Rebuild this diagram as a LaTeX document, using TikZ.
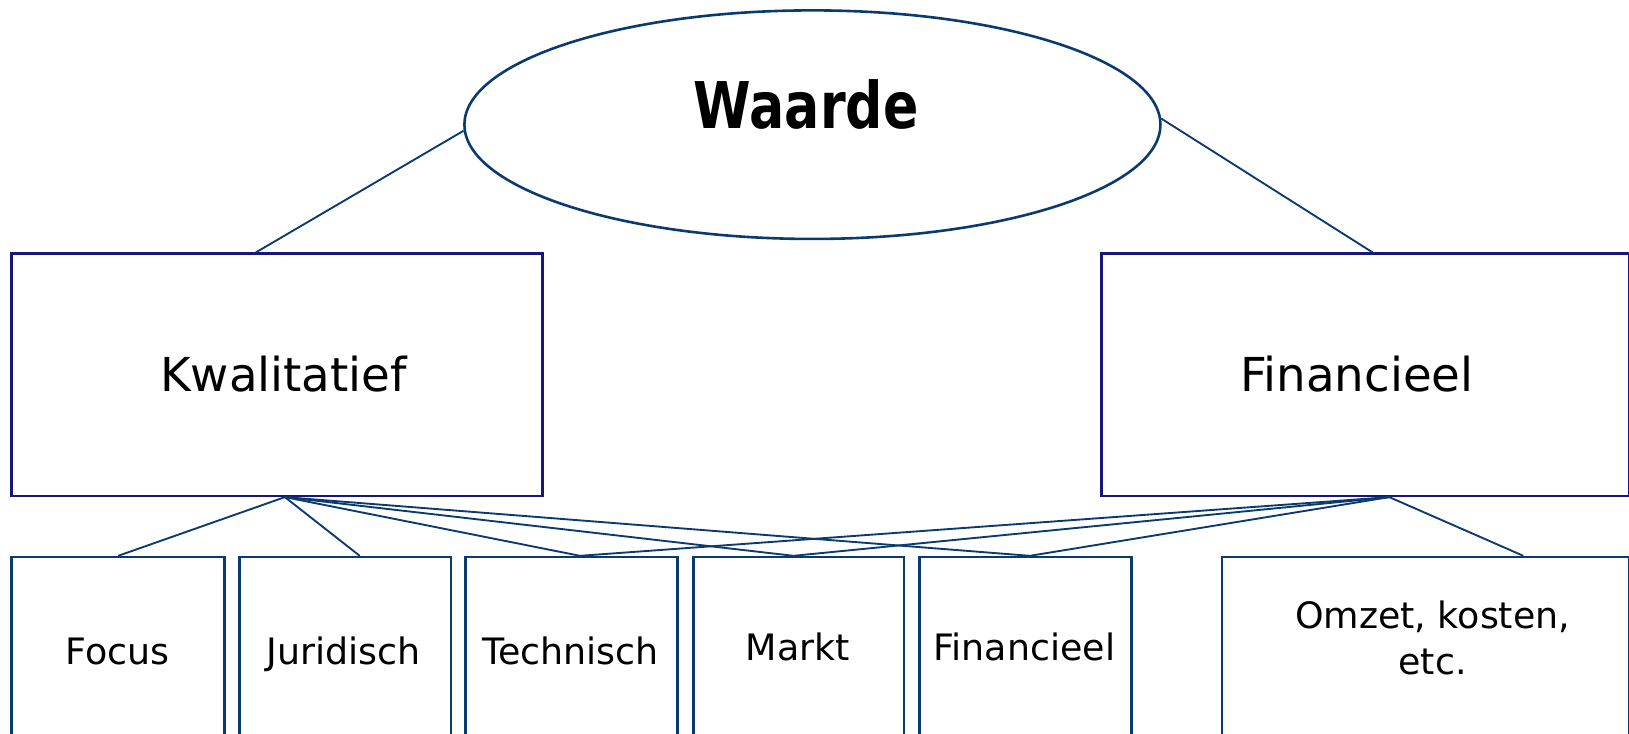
\documentclass[tikz,border=0pt]{standalone}
\usepackage{fontspec}
\setmainfont{DejaVu Sans}
\usetikzlibrary{shapes.geometric,calc}
\definecolor{lineblue}{HTML}{0B3A6E}
\definecolor{navybox}{HTML}{16167E}
\begin{document}
\begin{tikzpicture}[x=1pt,y=-1pt,
  bigbox/.style={draw=navybox,line width=2.5pt,minimum height=233pt,inner sep=0pt,anchor=north west},
  smallbox/.style={draw=lineblue,line width=2.5pt,minimum height=200pt,inner sep=0pt,anchor=north west},
  bigtext/.style={font=\fontsize{45}{54}\selectfont,inner sep=0pt},
  smalltext/.style={font=\fontsize{35}{44}\selectfont,inner sep=0pt,anchor=base},
  conn/.style={draw=lineblue,line width=1.8pt}]
\useasboundingbox (0,0) rectangle (1568,706);
\clip (0,0) rectangle (1568,706);
% top ellipse
\node[draw=lineblue,line width=2.5pt,ellipse,minimum width=670pt,minimum height=220pt,inner sep=0pt] (W) at (782,120) {};
\node[font=\bfseries\fontsize{62}{70}\selectfont,anchor=base,inner sep=0pt] (Wt) at (776,124) {\scalebox{0.81}[1]{Waarde}};
% middle boxes
\node[bigbox,minimum width=511pt] (K) at (10,243) {};
\node[bigtext] (Kt) at (273,360) {Kwalitatief};
\node[bigbox,minimum width=508pt] (F) at (1059,243) {};
\node[bigtext] (Ft) at (1306,360) {Financieel};
% bottom boxes
\node[smallbox,minimum width=205pt] (b1) at (10,535) {};
\node[smallbox,minimum width=204pt] (b2) at (229,535) {};
\node[smallbox,minimum width=204pt] (b3) at (447,535) {};
\node[smallbox,minimum width=203pt] (b4) at (666,535) {};
\node[smallbox,minimum width=204pt] (b5) at (884,535) {};
\node[smallbox,minimum width=392pt] (b6) at (1175,535) {};
\node[smalltext] (t1) at (113,640) {Focus};
\node[smalltext] (t2) at (331,640) {Juridisch};
\node[smalltext] (t3) at (549,640) {Technisch};
\node[smalltext] (t4) at (768,636) {Markt};
\node[smalltext] (t5) at (986,636) {Financieel};
\node[font=\fontsize{35}{44}\selectfont,inner sep=0pt,align=center] (t6) at (1379,614) {Omzet, kosten,\\etc.};
% connectors
\coordinate (kh) at ([xshift=7.5pt]K.south);
\coordinate (fh) at ([xshift=23pt]F.south);
\draw[conn] (W.181) -- ([xshift=-20.5pt]K.north);
\draw[conn] (W.1) -- ([xshift=7pt]F.north);
\draw[conn] (kh) -- (b1.north);
\draw[conn] (kh) -- ([xshift=14pt]b2.north);
\draw[conn] (kh) -- ([xshift=8pt]b3.north);
\draw[conn] (kh) -- ([xshift=-5pt]b4.north);
\draw[conn] (kh) -- ([xshift=4pt]b5.north);
\draw[conn] (fh) -- ([xshift=8pt]b3.north);
\draw[conn] (fh) -- ([xshift=-5pt]b4.north);
\draw[conn] (fh) -- ([xshift=4pt]b5.north);
\draw[conn] (fh) -- ([xshift=94pt]b6.north);
\end{tikzpicture}
\end{document}
